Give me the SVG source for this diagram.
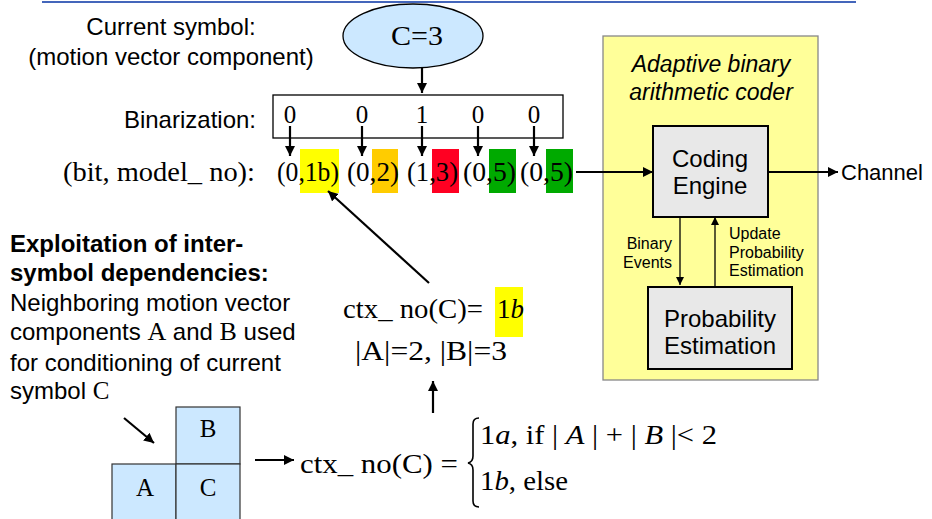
<svg xmlns="http://www.w3.org/2000/svg" width="932" height="519" viewBox="0 0 932 519">
<style>
.sans{font-family:"Liberation Sans",Arial,sans-serif;fill:#000}
.serif{font-family:"Liberation Serif","Times New Roman",serif;fill:#000}
.ln{stroke:#000;stroke-width:2.2;fill:none}
.thin{stroke:#000;stroke-width:1.3;fill:none}
.box{fill:#e8e8e8;stroke:#000;stroke-width:2}
.cell{fill:#cce8ff;stroke:#333;stroke-width:1.2}
</style>
<defs>
<marker id="ah" markerUnits="userSpaceOnUse" markerWidth="12" markerHeight="12" refX="10" refY="5" orient="auto"><path d="M0,0 L10,5 L0,10 z" fill="#000"/></marker>
<marker id="ahs" markerUnits="userSpaceOnUse" markerWidth="10" markerHeight="10" refX="8" refY="4" orient="auto"><path d="M0,0 L8,4 L0,8 z" fill="#000"/></marker>
</defs>
<rect width="932" height="519" fill="#fff"/>
<line x1="42" y1="2" x2="856" y2="2" stroke="#4466bb" stroke-width="2"/>

<g id="label-current">
<text class="sans" x="171" y="35" font-size="24" text-anchor="middle">Current symbol:</text>
<text class="sans" x="171" y="65" font-size="24" text-anchor="middle">(motion vector component)</text>
</g>
<g id="symbol-c">
<ellipse cx="413" cy="36" rx="70" ry="32" fill="#cce8ff" stroke="#000" stroke-width="1.3"/>
<text class="serif" x="391" y="45" font-size="28" textLength="52" lengthAdjust="spacingAndGlyphs">C=3</text>
</g>
<g id="binarization">
<text class="sans" x="256" y="128" font-size="24" text-anchor="end">Binarization:</text>
<rect x="273" y="95" width="290" height="43" fill="#fff" stroke="#000" stroke-width="1.3"/>
<text class="serif" font-size="25" text-anchor="middle" y="123"><tspan x="290">0</tspan><tspan x="362">0</tspan><tspan x="422">1</tspan><tspan x="478">0</tspan><tspan x="534">0</tspan></text>
</g>
<g id="bit-model">
<text class="serif" x="63" y="181" font-size="27" textLength="192" lengthAdjust="spacingAndGlyphs">(bit, model_ no):</text>
<rect x="300" y="149" width="39" height="44" fill="#ffff00"/>
<rect x="372" y="149" width="26" height="44" fill="#ffcc00"/>
<rect x="432" y="149" width="27" height="44" fill="#ff0022"/>
<rect x="489" y="149" width="27" height="44" fill="#00aa00"/>
<rect x="546" y="149" width="27" height="44" fill="#00aa00"/>
<text class="serif" x="277" y="181" font-size="27" textLength="62" lengthAdjust="spacingAndGlyphs">(0,1b)</text>
<text class="serif" x="347" y="181" font-size="27" textLength="52" lengthAdjust="spacingAndGlyphs">(0,2)</text>
<text class="serif" x="407" y="181" font-size="27" textLength="51" lengthAdjust="spacingAndGlyphs">(1,3)</text>
<text class="serif" x="463" y="181" font-size="27" textLength="53" lengthAdjust="spacingAndGlyphs">(0,5)</text>
<text class="serif" x="520" y="181" font-size="27" textLength="53" lengthAdjust="spacingAndGlyphs">(0,5)</text>
</g>

<g id="abac">
<rect x="603" y="36" width="215" height="344" fill="#ffff99" stroke="#888" stroke-width="1.3"/>
<text class="sans" x="711" y="72" font-size="23" font-style="italic" text-anchor="middle">Adaptive binary</text>
<text class="sans" x="711" y="100" font-size="23" font-style="italic" text-anchor="middle">arithmetic coder</text>
</g>
<g id="coding-engine">
<rect class="box" x="653" y="126" width="115" height="91"/>
<text class="sans" x="710" y="167" font-size="24" text-anchor="middle">Coding</text>
<text class="sans" x="710" y="194" font-size="24" text-anchor="middle">Engine</text>
</g>
<g id="prob-est">
<rect class="box" x="648" y="287" width="144" height="82"/>
<text class="sans" x="720" y="327" font-size="24" text-anchor="middle">Probability</text>
<text class="sans" x="720" y="354" font-size="24" text-anchor="middle">Estimation</text>
</g>
<g id="channel">
<text class="sans" x="841" y="180" font-size="22">Channel</text>
</g>
<g id="labels-events">
<text class="sans" x="672" y="249" font-size="16" text-anchor="end">Binary</text>
<text class="sans" x="672" y="268" font-size="16" text-anchor="end">Events</text>
<text class="sans" x="729" y="239" font-size="16">Update</text>
<text class="sans" x="729" y="258" font-size="16">Probability</text>
<text class="sans" x="729" y="276" font-size="16">Estimation</text>
</g>

<g id="exploitation">
<text class="sans" x="10" y="252" font-size="24" font-weight="bold">Exploitation of inter-</text>
<text class="sans" x="10" y="281" font-size="24" font-weight="bold">symbol dependencies:</text>
<text class="sans" x="10" y="311" font-size="24">Neighboring motion vector</text>
<text class="sans" x="10" y="340" font-size="24">components <tspan class="serif" font-size="26">A</tspan> and <tspan class="serif" font-size="26">B</tspan> used</text>
<text class="sans" x="10" y="371" font-size="24">for conditioning of current</text>
<text class="sans" x="10" y="399" font-size="24">symbol <tspan class="serif" font-size="25">C</tspan></text>
</g>
<g id="ctx-result">
<rect x="495" y="287" width="28" height="50" fill="#ffff00"/>
<text class="serif" x="343" y="318" font-size="27" textLength="140" lengthAdjust="spacingAndGlyphs">ctx_ no(C)=</text>
<text class="serif" x="497" y="318" font-size="27">1<tspan font-style="italic">b</tspan></text>
<text class="serif" x="355" y="360" font-size="27" textLength="152" lengthAdjust="spacingAndGlyphs">|A|=2,  |B|=3</text>
</g>
<g id="grid">
<rect class="cell" x="176" y="407" width="64" height="57"/>
<rect class="cell" x="112" y="464" width="64" height="57"/>
<rect class="cell" x="176" y="464" width="64" height="57"/>
<text class="serif" x="208" y="437" font-size="25" text-anchor="middle">B</text>
<text class="serif" x="145" y="496" font-size="25" text-anchor="middle">A</text>
<text class="serif" x="208" y="496" font-size="25" text-anchor="middle">C</text>
</g>
<g id="ctx-formula">
<text class="serif" x="300" y="473" font-size="28" textLength="158" lengthAdjust="spacingAndGlyphs">ctx_ no(C) =</text>
<path d="M479,418 Q473,418 473,424 L473,456 Q473,462 468,463 Q473,464 473,470 L473,501 Q473,507 479,507" fill="none" stroke="#000" stroke-width="1.6"/>
<text class="serif" x="480" y="444" font-size="27" textLength="237" lengthAdjust="spacingAndGlyphs">1<tspan font-style="italic">a</tspan>,  if  | <tspan font-style="italic">A</tspan> | + | <tspan font-style="italic">B</tspan> |&lt; 2</text>
<text class="serif" x="480" y="490" font-size="27" textLength="88" lengthAdjust="spacingAndGlyphs">1<tspan font-style="italic">b</tspan>,  else</text>
</g>

<g id="connectors">
<line class="ln" x1="422" y1="68" x2="422" y2="93" marker-end="url(#ah)"/>
<line class="ln" x1="290" y1="126" x2="290" y2="156" marker-end="url(#ah)"/>
<line class="ln" x1="362" y1="126" x2="362" y2="156" marker-end="url(#ah)"/>
<line class="ln" x1="422" y1="126" x2="422" y2="156" marker-end="url(#ah)"/>
<line class="ln" x1="478" y1="126" x2="478" y2="156" marker-end="url(#ah)"/>
<line class="ln" x1="534" y1="126" x2="534" y2="156" marker-end="url(#ah)"/>
<line class="ln" x1="576" y1="172" x2="653" y2="172" marker-end="url(#ah)"/>
<line class="ln" x1="768" y1="172" x2="838" y2="172" marker-end="url(#ah)"/>
<line class="thin" x1="680" y1="217" x2="680" y2="285" marker-end="url(#ahs)"/>
<line class="thin" x1="715" y1="287" x2="715" y2="217" marker-end="url(#ahs)"/>
<line class="ln" x1="429" y1="283" x2="328" y2="191" marker-end="url(#ah)"/>
<line class="ln" x1="433" y1="413" x2="433" y2="381" marker-end="url(#ah)"/>
<line class="ln" x1="124" y1="418" x2="154" y2="443" marker-end="url(#ah)"/>
<line class="ln" x1="255" y1="460" x2="294" y2="460" marker-end="url(#ah)"/>
</g>
</svg>
